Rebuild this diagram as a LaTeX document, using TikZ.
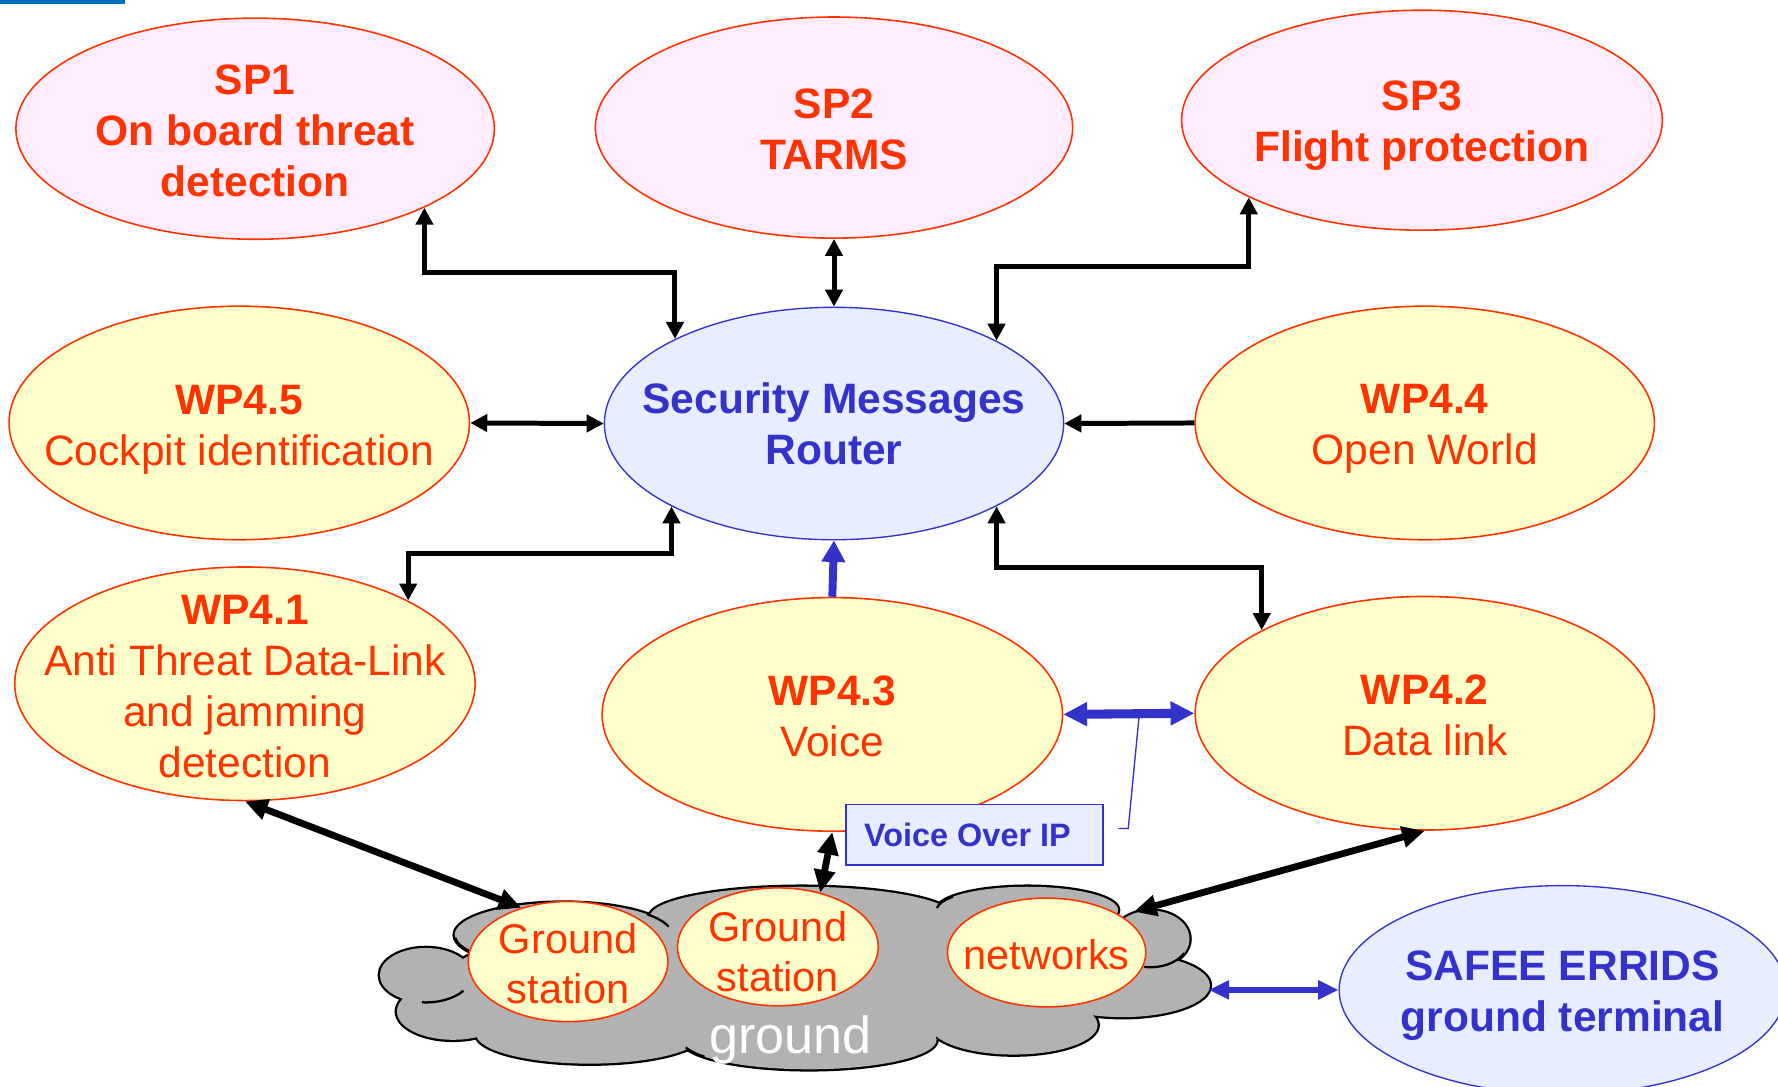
\documentclass[tikz,border=0pt]{standalone}
\usepackage{fontspec}
\setmainfont{Liberation Sans}
\usetikzlibrary{shapes.geometric,arrows.meta,calc}

\definecolor{redtxt}{RGB}{255,51,0}
\definecolor{pinkfill}{RGB}{255,236,255}
\definecolor{yellowfill}{RGB}{255,255,204}
\definecolor{bluefill}{RGB}{232,238,255}
\definecolor{blueline}{RGB}{51,51,204}
\definecolor{cloudgray}{RGB}{178,178,178}
\definecolor{topbar}{RGB}{0,112,192}

\tikzset{
  oval/.style={ellipse, inner sep=0pt, line width=0.7pt},
  spoval/.style={oval, draw=redtxt, fill=pinkfill},
  wpoval/.style={oval, draw=redtxt, fill=yellowfill},
  hub/.style={oval, draw=blueline, fill=bluefill, line width=0.6pt},
  lbl/.style={align=center, inner sep=0pt, font=\fontsize{18.75pt}{22.5pt}\selectfont},
  redlbl/.style={lbl, text=redtxt},
  bluelbl/.style={lbl, text=blueline, font=\fontsize{18.75pt}{22.5pt}\selectfont\bfseries},
  elbow/.style={line width=2.2pt, line join=miter,
    arrows={Triangle[length=7.5pt,width=7.5pt]-Triangle[length=7.5pt,width=7.5pt]}},
  elbowin/.style={line width=2.2pt, arrows={-Triangle[length=7.5pt,width=7.5pt]}},
  heavy/.style={line width=3pt,
    arrows={Triangle[length=10pt,width=9pt]-Triangle[length=10pt,width=9pt]}},
  bluebig/.style={draw=blueline, line width=4pt,
    arrows={Triangle[length=10.5pt,width=10pt]-Triangle[length=10.5pt,width=10pt]}},
  blueup/.style={draw=blueline, line width=3.5pt, arrows={-Triangle[length=9.5pt,width=10pt]}},
  bluelink/.style={draw=blueline, line width=3pt,
    arrows={Triangle[length=9pt,width=8pt]-Triangle[length=9pt,width=8pt]}},
  cloudarc/.style={draw=black, line width=1pt},
}

\begin{document}
\begin{tikzpicture}[x=0.5pt,y=-0.5pt]
\useasboundingbox (0,0) rectangle (1568,958);
\clip (0,0) rectangle (1568,958);

% thin bar in the top left corner
\fill[topbar] (0,0) rectangle (110,3.5);

% ---------- ovals ----------
\node[spoval, minimum width=211pt, minimum height=97.5pt] (sp1) at (225,113.5) {};
\node[spoval, minimum width=210.5pt, minimum height=97.5pt] (sp2) at (735.5,112.5) {};
\node[spoval, minimum width=212pt, minimum height=97pt] (sp3) at (1254,106) {};
\node[wpoval, minimum width=203pt, minimum height=103pt] (wp45) at (211,373) {};
\node[hub, minimum width=202.5pt, minimum height=102.5pt] (router) at (735.5,373.5) {};
\node[wpoval, minimum width=202.5pt, minimum height=103pt] (wp44) at (1256.5,373) {};
\node[wpoval, minimum width=203pt, minimum height=103pt] (wp41) at (216,603) {};
\node[wpoval, minimum width=203pt, minimum height=103pt] (wp43) at (734,630) {};
\node[wpoval, minimum width=202.5pt, minimum height=103pt] (wp42) at (1256.5,629) {};
\node[hub, minimum width=197pt, minimum height=92pt] (safee) at (1378,873) {};

% ---------- labels ----------
\node[redlbl, font=\fontsize{18.75pt}{22.5pt}\selectfont\bfseries] (sp1t) at ($(sp1)+(0,2)$) {SP1\\On board threat\\detection};
\node[redlbl, font=\fontsize{18.75pt}{22.5pt}\selectfont\bfseries] (sp2t) at ($(sp2)+(0,2)$) {SP2\\TARMS};
\node[redlbl, font=\fontsize{18.75pt}{22.5pt}\selectfont\bfseries] (sp3t) at ($(sp3)+(0,5)$) {SP3\\Flight protection};
\node[redlbl] (wp45t) at ($(wp45)+(0,6)$) {\textbf{WP4.5}\\Cockpit identification};
\node[bluelbl] (routert) at (router) {Security Messages\\Router};
\node[redlbl] (wp44t) at ($(wp44)+(0,5.5)$) {\textbf{WP4.4}\\Open World};
\node[redlbl] (wp41t) at ($(wp41)+(0,2.5)$) {\textbf{WP4.1}\\Anti Threat Data-Link\\and jamming\\detection};
\node[redlbl] (wp43t) at ($(wp43)+(0,1.5)$) {\textbf{WP4.3}\\Voice};
\node[redlbl] (wp42t) at ($(wp42)+(0,1.5)$) {\textbf{WP4.2}\\Data link};
\node[bluelbl] (safeet) at ($(safee)+(0,5)$) {SAFEE ERRIDS\\ground terminal};

% ---------- links around the router ----------
\draw[elbow] (sp1.-25.2) -- ++(0,57) -| (router.152.6);
\draw[elbow] (sp2.south) -- (router.north);
\draw[elbow] (sp3.204.9) -- ++(0,61) -| (router.27.1);
\draw[elbow] (wp45.east) -- (router.west);
\draw[elbowin] (wp44.west) -- (router.east);
\draw[elbow] (router.207.4) -- ++(0,41.2) -| (wp41.27.1);
\draw[elbow] (router.-27.1) -- ++(0,53.7) -| (wp42.153.1);
\draw[blueup] (wp43.north) -- (router.south);
\draw[bluebig] (wp43.east) -- (wp42.west);
\coordinate (voipA) at ($(wp43.east)!0.58!(wp42.west)$);

% ---------- ground cloud ----------
\def\cloudlobes{375.5/860/20.25pt/12pt, 399.5/892/24.75pt/12.5pt,
  497/824.5/48pt/14.25pt, 707/808.5/67pt/13.25pt, 906/802.5/40pt/10.25pt,
  1015/828/17pt/12.5pt, 990/869/38.5pt/14pt, 894/904/37pt/13pt,
  713.5/917/56.25pt/13pt, 520/912/50pt/13pt, 705/862/155pt/28pt}
\foreach \cx/\cy/\rx/\ry in \cloudlobes
  \filldraw[fill=cloudgray, draw=black, line width=2pt]
    (\cx,\cy) ellipse [x radius=\rx, y radius=\ry];
\foreach \cx/\cy/\rx/\ry in \cloudlobes
  \fill[cloudgray] (\cx,\cy) ellipse [x radius=\rx, y radius=\ry];
% inner creases between the lobes
\foreach \cx/\cy/\rx/\ry/\sa/\ea in {375.5/860/20.25pt/12pt/-95/-35,
    497/824.5/48pt/14.25pt/40/15, 497/824.5/48pt/14.25pt/185/215,
    1015/828/17pt/12.5pt/-100/-30, 906/802.5/40pt/10.25pt/175/145,
    713.5/917/56.25pt/13pt/195/215}
  \draw[cloudarc] (\cx,\cy) ++(\sa:{\rx} and {\ry})
    arc[start angle=\sa, end angle=\ea, x radius=\rx, y radius=\ry];
\node[inner sep=0pt, text=white, font=\fontsize{23pt}{26pt}\selectfont] (groundt) at (697,917) {ground};
\coordinate (cloudNE) at (1000,804);
\coordinate (cloudE) at (1066,873);

\node[wpoval, minimum width=88pt, minimum height=53pt] (gs1) at (501,848) {};
\node[wpoval, minimum width=88.5pt, minimum height=52pt] (gs2) at (686,835) {};
\node[wpoval, minimum width=87.5pt, minimum height=48pt] (nets) at (923,840) {};
\node[redlbl, font=\fontsize{18.3pt}{22pt}\selectfont] (gs1t) at ($(gs1)+(0,2)$) {Ground\\station};
\node[redlbl, font=\fontsize{18.3pt}{22pt}\selectfont] (gs2t) at ($(gs2)+(0,4)$) {Ground\\station};
\node[redlbl, font=\fontsize{18.3pt}{22pt}\selectfont] (netst) at ($(nets)+(0,2)$) {networks};

% ---------- callout ----------
\node[draw=blueline, fill=bluefill, line width=0.7pt, minimum width=113.3pt,
  minimum height=26.75pt, inner sep=0pt, text=blueline,
  font=\fontsize{14.3pt}{16pt}\selectfont\bfseries] (voip) at (859.2,736.2) {\hspace*{-6pt}Voice Over IP};
\coordinate (voipbend) at (995,730.6);
\coordinate (voipend) at (986.3,730.6);
\draw[blueline, line width=0.6pt] (voipA) -- (voipbend) -- (voipend);

% ---------- links to the ground ----------
\draw[heavy] (wp41.south) -- (gs1.131.9);
\draw[heavy] (wp43.south) -- (gs2.52.8);
\draw[heavy] (cloudNE) -- (wp42.south);
\draw[bluelink] (cloudE) -- (safee.west);
\end{tikzpicture}
\end{document}
